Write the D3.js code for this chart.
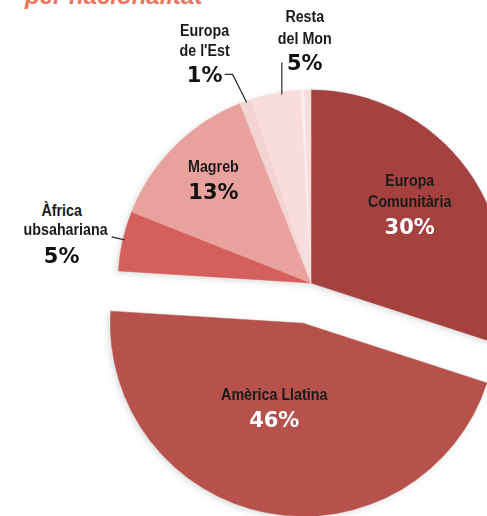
<!DOCTYPE html>
<html>
<head>
<meta charset="utf-8">
<script src="https://cdn.jsdelivr.net/npm/d3@7"></script>
<style>
  html, body { margin: 0; padding: 0; background: #fff; overflow: hidden; }
  svg { display: block; }
</style>
</head>
<body>
<svg id="chart" width="487" height="516"></svg>
<script>
// dades
var categories = ["Europa Comunitària", "Amèrica Llatina", "Àfrica subsahariana", "Magreb", "Europa de l'Est", "Resta del Mon"];
var values = [30, 46, 5, 13, 1, 5];
var nameLines = [["Europa", "Comunitària"], ["Amèrica Llatina"], ["Àfrica", "ubsahariana"], ["Magreb"], ["Europa", "de l'Est"], ["Resta", "del Mon"]];
var titleText = "per nacionalitat";

var colors = d3.scaleOrdinal()
    .domain(categories)
    .range(["#a5433f", "#b6514b", "#d55f5a", "#e9a19d", "#f4d4d3", "#f8dddc"]);

var width = 487, height = 516;
var cx = 311, cy = 283, radius = 193;
var explode = { "Amèrica Llatina": 41 };

var svg = d3.select("#chart");

// ombra suau
var defs = svg.append("defs");
var f = defs.append("filter").attr("id", "shadow")
    .attr("x", "-20%").attr("y", "-20%").attr("width", "140%").attr("height", "140%");
f.append("feDropShadow")
    .attr("dx", -2).attr("dy", 2).attr("stdDeviation", 3)
    .attr("flood-color", "#6d7a78").attr("flood-opacity", 0.25);

// títol (tallat per dalt, com a la imatge)
svg.append("text")
    .attr("x", 25).attr("y", 4)
    .attr("font-family", "Liberation Sans, Arial, sans-serif")
    .attr("font-weight", "bold").attr("font-style", "italic")
    .attr("font-size", 24)
    .attr("fill", "#ea745c")
    .text(titleText);

var pie = d3.pie().sort(null).value(function(d) { return d; });
var arcs = pie(values).map(function(a, i) { a.name = categories[i]; a.lines = nameLines[i]; return a; });
var arc = d3.arc().innerRadius(0).outerRadius(radius);

function polar(angle, r) {
  return [Math.sin(angle) * r, -Math.cos(angle) * r];
}
function mid(d) { return (d.startAngle + d.endAngle) / 2; }
function offset(d) {
  var e = explode[d.name] || 0;
  return polar(mid(d), e);
}

var g = svg.append("g").attr("transform", "translate(" + cx + "," + cy + ")");

g.append("g").attr("filter", "url(#shadow)")
  .selectAll("path")
  .data(arcs)
  .enter().append("path")
    .attr("d", arc)
    .attr("transform", function(d) { var o = offset(d); return "translate(" + o[0] + "," + o[1] + ")"; })
    .attr("fill", function(d) { return colors(d.name); })
    .attr("stroke", function(d) { return colors(d.name); })
    .attr("stroke-width", 0.5);

// reflex clar a la llesca "Resta del Mon"
var resta = arcs[5];
g.append("path")
    .attr("d", d3.arc().innerRadius(0).outerRadius(radius)
      .startAngle(resta.endAngle - 0.055).endAngle(resta.endAngle - 0.035)())
    .attr("fill", "#fcecec");

var nameFont = "Liberation Sans, Arial, sans-serif";
var pctFont = "DejaVu Sans, Liberation Sans, sans-serif";

// disposició de les etiquetes: interiors (radi sobre l'angle mitjà) o exteriors (amb línia guia)
var layout = {
  "Europa Comunitària": { inside: true, r: 122, dx: 0, dy: 0, nameDy: [-25, -4], pctDy: 23, pctColor: "#fff" },
  "Amèrica Llatina":   { inside: true, r: 91, dx: -12, dy: 0, nameDy: [-13], pctDy: 14, pctColor: "#fff" },
  "Magreb":            { inside: true, r: 138, dx: 0, dy: 0, nameDy: [-13], pctDy: 14, pctColor: "#111" },
  "Àfrica subsahariana": { inside: false, leader: [[2, -1], [-11, -4]], lx: -61, nameDy: [-25, -6], nameAnchor: ["middle", "end"], nameDx: [0, 46], pctDy: 22 },
  "Europa de l'Est":   { inside: false, leader: [[1, 1], [-13, -27], [-21, -27]], lx: -41, nameDy: [-65, -45], pctDy: -19 },
  "Resta del Mon":     { inside: false, leader: [[1, 2], [1, -30]], lx: 24, nameDy: [-70, -48], pctDy: -22 }
};

var labels = g.append("g");

arcs.forEach(function(d) {
  var L = layout[d.name];
  var o = offset(d);
  var ax, ay;
  if (L.inside) {
    var p = polar(mid(d), L.r);
    ax = o[0] + p[0] + L.dx;
    ay = o[1] + p[1] + L.dy;
  } else {
    var e = polar(mid(d), radius);
    var pts = L.leader.map(function(q) { return [e[0] + q[0], e[1] + q[1]]; });
    labels.append("path")
        .attr("d", d3.line()(pts))
        .attr("fill", "none")
        .attr("stroke", "#2a2a2a")
        .attr("stroke-width", 1.2);
    ax = e[0] + L.lx;
    ay = e[1];
  }
  d.lines.forEach(function(t, j) {
    var anchor = L.nameAnchor ? L.nameAnchor[j] : "middle";
    var ndx = L.nameDx ? L.nameDx[j] : 0;
    // lletra condensada: escala horitzontal al voltant del punt d'ancoratge
    labels.append("text")
        .attr("transform", "translate(" + (ax + ndx) + "," + (ay + L.nameDy[j]) + ") scale(0.84,1)")
        .attr("text-anchor", anchor)
        .attr("font-family", nameFont)
        .attr("font-weight", "bold")
        .attr("font-size", 17)
        .attr("fill", "#1a1a1a")
        .text(t);
  });
  labels.append("text")
      .attr("x", ax).attr("y", ay + L.pctDy)
      .attr("text-anchor", "middle")
      .attr("font-family", pctFont)
      .attr("font-weight", "bold")
      .attr("font-size", 21)
      .attr("fill", L.pctColor || "#111")
      .text(d.data + "%");
});
</script>
</body>
</html>
